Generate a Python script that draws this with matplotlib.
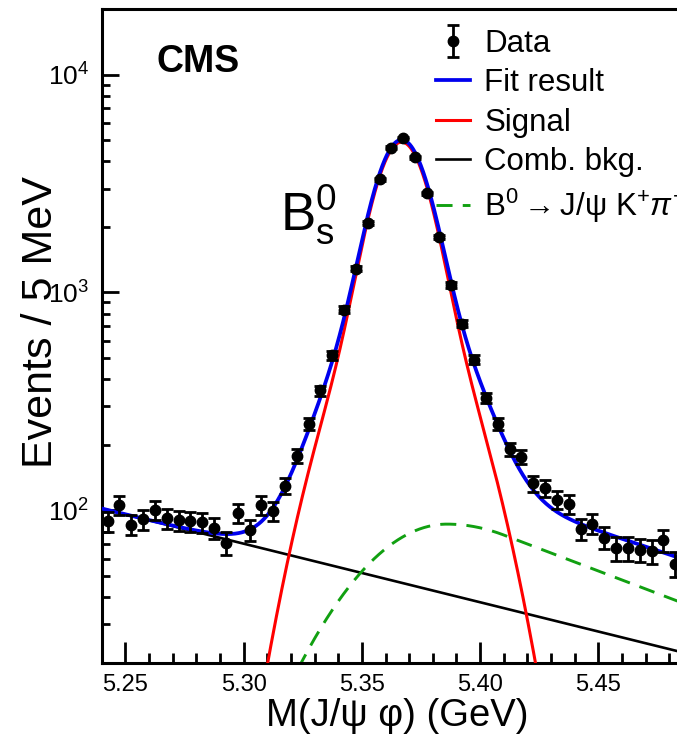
import numpy as np
import matplotlib
matplotlib.use("Agg")
import matplotlib.pyplot as plt
from matplotlib.ticker import MultipleLocator, LogLocator, NullFormatter, FormatStrFormatter

plt.rcParams['font.family'] = ['Liberation Sans', 'DejaVu Sans']
plt.rcParams['mathtext.fontset'] = 'custom'
plt.rcParams['mathtext.rm'] = 'Liberation Sans'
plt.rcParams['mathtext.it'] = 'Liberation Sans:italic'
plt.rcParams['mathtext.bf'] = 'Liberation Sans:bold'

# ---- binned data: candidates per 5 MeV bin, starting at 5.24 GeV ----
bin_low = 5.24
bin_width = 0.005
counts = [89, 106, 86, 91, 100, 92, 90, 89, 88, 83,
          71, 97, 81, 106, 99, 130, 178, 249, 355, 514,
          834, 1288, 2076, 3311, 4627, 5113, 4180, 2853, 1801, 1080,
          719, 492, 328, 249, 191, 176, 133, 127, 112, 107,
          82, 87, 75, 67, 67, 66, 65, 73, 57]

# ---- fit model parameters (heights in events / 5 MeV) ----
sig_mean = 5.3668
sig_core_height, sig_core_sigma = 3924.0, 0.0099
sig_tail_height, sig_tail_sigma = 976.0, 0.0203
bkg_height_at_low = 102.0      # combinatorial background at 5.24 GeV
bkg_slope = -6.19              # exponential slope (1/GeV)
refl_height, refl_mode = 86.5, 5.386
refl_sigma_left, refl_sigma_right = 0.036, 0.050
refl_tail_start = 0.02375      # distance above the mode where the exponential tail begins

x_range = (5.24, 5.49)
y_range = (20, 2e4)


def gauss(m, h, mu, s):
    return h * np.exp(-0.5 * ((m - mu) / s) ** 2)


def signal_pdf(m):
    return (gauss(m, sig_core_height, sig_mean, sig_core_sigma)
            + gauss(m, sig_tail_height, sig_mean, sig_tail_sigma))


def comb_pdf(m):
    return bkg_height_at_low * np.exp(bkg_slope * (m - bin_low))


def refl_pdf(m):
    d = m - refl_mode
    k = refl_tail_start
    s_r2 = refl_sigma_right ** 2
    left = np.exp(-0.5 * d ** 2 / refl_sigma_left ** 2)
    core = np.exp(-0.5 * d ** 2 / s_r2)
    tail = np.exp(0.5 * k ** 2 / s_r2 - k * d / s_r2)
    return refl_height * np.where(d < 0, left, np.where(d <= k, core, tail))


counts = np.asarray(counts, dtype=float)
centers = bin_low + bin_width * (np.arange(len(counts)) + 0.5)
errors = np.sqrt(counts)

m = np.linspace(x_range[0], x_range[1], 1500)
sig = signal_pdf(m)
comb = comb_pdf(m)
refl = refl_pdf(m)
total = sig + comb + refl

W, H = 677, 739
fig = plt.figure(figsize=(W / 100, H / 100), dpi=100)


def fx(px):
    return px / W


def fy(py):
    return 1 - py / H


ax = fig.add_axes([fx(101.7), fy(662.7), 591.25 / W, 653.7 / H])

green = '#11a011'
l_comb, = ax.plot(m, comb, color='black', lw=1.9, zorder=2)
l_refl, = ax.plot(m, refl, color=green, lw=2.1, ls=(0, (5.5, 3.5)), zorder=2)
l_sig, = ax.plot(m, sig, color='#ff0000', lw=2.2, zorder=3)
l_tot, = ax.plot(m, total, color='#0000ee', lw=2.7, zorder=4)
eb = ax.errorbar(centers, counts, yerr=errors, fmt='o', color='black',
                 ms=7.5, elinewidth=2.0, capsize=4.3, capthick=2.0, zorder=5)

ax.set_yscale('log')
ax.set_xlim(*x_range)
ax.set_ylim(*y_range)

ax.xaxis.set_major_locator(MultipleLocator(0.05))
ax.xaxis.set_minor_locator(MultipleLocator(0.01))
ax.xaxis.set_major_formatter(FormatStrFormatter('%.2f'))
ax.yaxis.set_major_locator(LogLocator(base=10))
ax.yaxis.set_minor_locator(LogLocator(base=10, subs=np.arange(2, 10)))
ax.yaxis.set_minor_formatter(NullFormatter())

for sp in ax.spines.values():
    sp.set_linewidth(2.2)
ax.tick_params(axis='x', which='major', direction='in', length=15, width=2,
               labelsize=17, pad=8, top=False)
ax.tick_params(axis='x', which='minor', direction='in', length=7, width=2, top=False)
ax.tick_params(axis='y', which='major', direction='in', length=12, width=2,
               labelsize=19, pad=9, right=False)
ax.tick_params(axis='y', which='minor', direction='in', length=6, width=2, right=False)

fig.text(fx(41), fy(322), 'Events / 5 MeV', rotation=90, fontsize=31,
         ha='center', va='center')
fig.text(fx(397), fy(716), 'M(J/ψ φ) (GeV)', fontsize=27.5, ha='center', va='center')

fig.text(fx(157), fy(72), 'CMS', fontsize=27, fontweight='bold', va='baseline')
fig.text(fx(280), fy(230), r'$\mathrm{B}_{\mathrm{s}}^{0}$', fontsize=38, va='baseline')

handles = [eb, l_tot, l_sig, l_comb, l_refl]
labels = ['Data', 'Fit result', 'Signal', 'Comb. bkg.',
          r'B$^{0}$$\rightarrow$J/ψ K$^{+}$$\pi^{-}$']
ax.legend(handles, labels, loc='upper left', bbox_to_anchor=(fx(436), fy(29)),
          bbox_transform=fig.transFigure, fontsize=22.5, frameon=False,
          handlelength=1.1, handletextpad=0.45, labelspacing=0.3,
          borderpad=0, borderaxespad=0)

fig.savefig('out.png', dpi=100)
